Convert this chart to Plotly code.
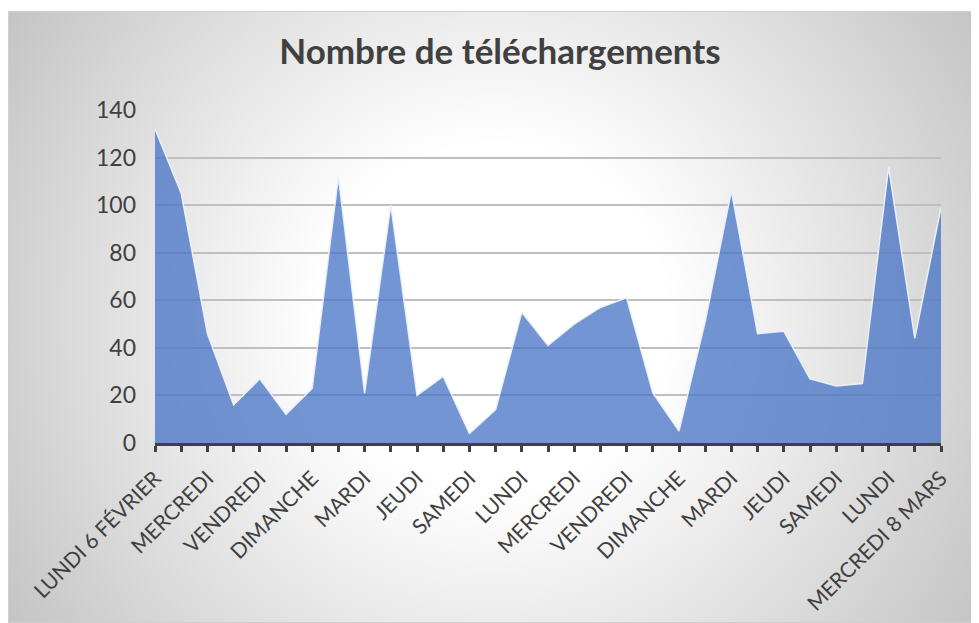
import base64
import math
import plotly.graph_objects as go

# ---- data ----
day_labels = [
    "LUNDI 6 FÉVRIER", "MARDI", "MERCREDI", "JEUDI", "VENDREDI", "SAMEDI", "DIMANCHE",
    "LUNDI", "MARDI", "MERCREDI", "JEUDI", "VENDREDI", "SAMEDI", "DIMANCHE",
    "LUNDI", "MARDI", "MERCREDI", "JEUDI", "VENDREDI", "SAMEDI", "DIMANCHE",
    "LUNDI", "MARDI", "MERCREDI", "JEUDI", "VENDREDI", "SAMEDI", "DIMANCHE",
    "LUNDI", "MARDI", "MERCREDI 8 MARS",
]
downloads = [132, 105, 46, 16, 27, 12, 23, 112, 21, 100, 20, 28, 4, 14, 55,
             41, 50, 57, 61, 21, 5, 51, 106, 46, 47, 27, 24, 25, 116, 44, 99]
y_ticks = [0, 20, 40, 60, 80, 100, 120, 140]
title_text = "Nombre de téléchargements"

# ---- layout geometry (page has an 8px body margin) ----
OFF = 8
W, H = 979 - OFF, 623 - OFF
ML = 155 - OFF
MT = 110 - OFF
MR = 979 - 941
MB = 623 - 443
PW, PH = W - ML - MR, H - MT - MB

# chart-area background (radial gradient)
bx0, by0, bx1, by1 = 0, 3, W, H
bw, bh = bx1 - bx0, by1 - by0
r = math.hypot(bw / 2, bh / 2)
svg = f'''<svg xmlns="http://www.w3.org/2000/svg" width="{bw}" height="{bh}" viewBox="0 0 {bw} {bh}" preserveAspectRatio="none">
<defs><radialGradient id="g" gradientUnits="userSpaceOnUse" cx="{bw/2}" cy="{bh/2}" r="{r}">
<stop offset="0" stop-color="#ffffff"/><stop offset="0.3" stop-color="#ffffff"/><stop offset="1" stop-color="#c4c4c4"/>
</radialGradient></defs>
<rect x="0.5" y="0.5" width="{bw-1}" height="{bh-1}" fill="url(#g)" stroke="#cfcfcf" stroke-width="1"/>
</svg>'''
src = "data:image/svg+xml;base64," + base64.b64encode(svg.encode()).decode()

img_x = (bx0 - ML) / PW
img_y = (H - MB - by0) / PH
img_sx = bw / PW
img_sy = bh / PH

x_idx = list(range(len(downloads)))
tick_text = [lab if i % 2 == 0 else "" for i, lab in enumerate(day_labels)]

fig = go.Figure()
fig.add_trace(go.Scatter(
    x=x_idx, y=downloads, mode="lines", fill="tozeroy",
    fillcolor="rgba(68,114,196,0.75)",
    line=dict(color="rgba(235,241,252,0.95)", width=1.5),
    hoverinfo="x+y", showlegend=False,
))

fig.update_layout(
    width=W, height=H,
    margin=dict(l=ML, r=MR, t=MT, b=MB, pad=0),
    paper_bgcolor="white",
    plot_bgcolor="rgba(0,0,0,0)",
    font=dict(family="Lato, 'Open Sans', sans-serif", color="#404040"),
    title=dict(text=title_text, x=(500 - OFF) / W, xanchor="center", y=1 - (52 - OFF) / H,
               yanchor="middle", yref="container", xref="container",
               font=dict(family="Lato, sans-serif", size=35, color="#404040", weight="bold")),
    images=[dict(source=src, xref="paper", yref="paper", x=img_x, y=img_y,
                 sizex=img_sx, sizey=img_sy, xanchor="left", yanchor="top",
                 sizing="stretch", layer="below")],
    xaxis=dict(range=[0, len(downloads) - 1], tickmode="array", tickvals=x_idx,
               ticktext=tick_text, tickangle=-45, showgrid=False, zeroline=False,
               showline=True, linecolor="#404040", linewidth=2.5,
               ticks="outside", ticklen=6, tickwidth=2.5, tickcolor="#404040",
               ticklabelstandoff=6, automargin=False,
               tickfont=dict(size=21, color="#404040")),
    yaxis=dict(range=[0, 140], tickmode="array", tickvals=y_ticks,
               showgrid=True, gridcolor="#bfbfbf", gridwidth=1.5, zeroline=False,
               showline=False, ticks="", ticklabelstandoff=18, automargin=False,
               tickfont=dict(size=23, color="#404040")),
)

fig.write_html("out.html")
